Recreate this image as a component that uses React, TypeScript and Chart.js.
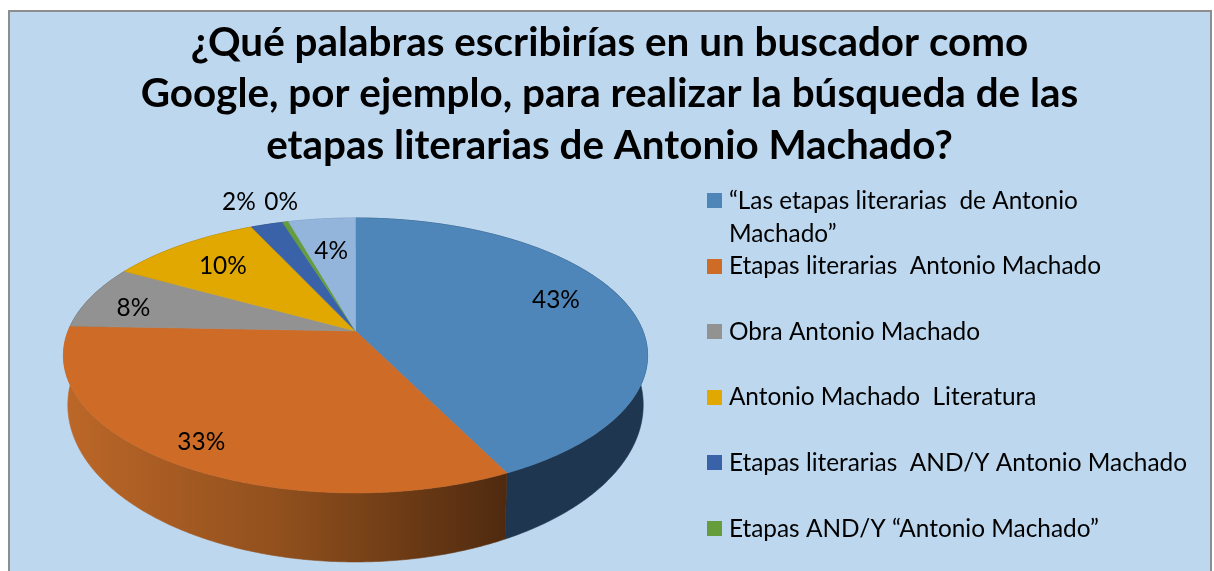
import React, { useEffect, useRef } from "react";
import { Chart, registerables } from "chart.js";

Chart.register(...registerables);

const titleLines = [
  "¿Qué palabras escribirías en un buscador como",
  "Google, por ejemplo, para realizar la búsqueda de las",
  "etapas literarias de Antonio Machado?",
];
const categories = [
  ["“Las etapas literarias  de Antonio", "Machado”"],
  ["Etapas literarias  Antonio Machado", ""],
  ["Obra Antonio Machado", ""],
  ["Antonio Machado  Literatura", ""],
  ["Etapas literarias  AND/Y Antonio Machado", ""],
  ["Etapas AND/Y “Antonio Machado”"],
  ["Otras"],
];
const legendCount = 6;
const shares = [42.7, 32.9, 7.5, 10.0, 2.1, 0.4, 4.4];
const colors = ["#4E86B9", "#CE6B27", "#929292", "#E0A800", "#3A62A9", "#659D3D", "#93B5DC"];
const wallColors = ["#1F3650", "#8A4C1D", "#555555", "#806000", "#203864", "#375623", "#5A7FAA"];
const wallGradient = ["#BC6728", "#8F4F1D", "#4F2A0F"];
const labelRadius = [0.77, 0.86, 0.82, 0.745, 1.28, 1.22, 0.69];
const labelShift = [-5.8, 0, -2.5, 0, -1.5, 1.7, 0];

const FONT = "Lato";
const LEGEND_FONT_SIZE = 24.4;
const SWATCH = 15;
const topPlane = { cx: 355.5, cy: 331, R: 287.4, S: 133.1, k: 0.178 };
const basePlane = { cx: 355.5, cy: 376.7, R: 283, S: 151.9, k: 0.18 };

type Plane = typeof topPlane;
const project = (p: Plane, angle: number, r = 1) => {
  const t = angle + Math.PI / 2;
  const u = r * Math.sin(t);
  const v = -r * Math.cos(t);
  const d = 1 - p.k * v;
  return [p.cx + (p.R * u) / d, p.cy + (p.S * v) / d];
};
const sample = (p: Plane, a: number, b: number) => {
  const n = Math.max(2, Math.ceil(Math.abs(b - a) / 0.01));
  const pts: number[][] = [];
  for (let i = 0; i <= n; i++) pts.push(project(p, a + ((b - a) * i) / n));
  return pts;
};
const fillPoly = (ctx: CanvasRenderingContext2D, pts: number[][], fill: any) => {
  ctx.beginPath();
  pts.forEach(([x, y], i) => (i ? ctx.lineTo(x, y) : ctx.moveTo(x, y)));
  ctx.closePath();
  ctx.fillStyle = fill;
  ctx.strokeStyle = fill;
  ctx.lineWidth = 0.6;
  ctx.fill();
  ctx.stroke();
};

const panelPlugin = {
  id: "panel",
  beforeDraw(chart: any) {
    const { ctx, width, height } = chart;
    ctx.save();
    ctx.fillStyle = "#BDD7EE";
    ctx.fillRect(9, 11, width - 12, height - 11);
    ctx.fillStyle = "#8E8E8E";
    ctx.fillRect(8, 10, width - 11, 2);
    ctx.fillRect(8, 10, 2, height - 10);
    ctx.fillRect(width - 4, 10, 2, height - 10);
    ctx.restore();
  },
  afterDraw(chart: any) {
    // Legend swatches sit closer to their text than the library's own spacing allows.
    const { ctx, legend } = chart;
    ctx.save();
    legend.legendHitBoxes.forEach((hit: any, i: number) => {
      ctx.fillStyle = colors[i];
      ctx.fillRect(
        Math.round(hit.left - 5),
        Math.floor(hit.top + (LEGEND_FONT_SIZE - SWATCH) / 2),
        SWATCH,
        SWATCH
      );
    });
    ctx.restore();
  },
};

const pie3dPlugin = {
  id: "pie3d",
  beforeDatasetsDraw(chart: any) {
    const { ctx } = chart;
    const arcs = chart.getDatasetMeta(0).data;
    ctx.save();
    const order = [2, 3, 4, 5, 6, 0, 1];
    order.forEach((i) => {
      const { startAngle, endAngle } = arcs[i];
      const top = sample(topPlane, startAngle, endAngle);
      const base = sample(basePlane, endAngle, startAngle);
      let fill: any = wallColors[i];
      if (i === 1) {
        const g = ctx.createLinearGradient(66, 0, 506, 0);
        wallGradient.forEach((c, s) => g.addColorStop(s / (wallGradient.length - 1), c));
        fill = g;
      }
      fillPoly(ctx, [...top, ...base], fill);
    });
    arcs.forEach((arc: any, i: number) => {
      const pts = sample(topPlane, arc.startAngle, arc.endAngle);
      fillPoly(ctx, [[topPlane.cx, topPlane.cy], ...pts], colors[i]);
    });
    ctx.fillStyle = "#000000";
    ctx.font = `24.4px ${FONT}`;
    ctx.textAlign = "center";
    ctx.textBaseline = "middle";
    arcs.forEach((arc: any, i: number) => {
      const mid = (arc.startAngle + arc.endAngle) / 2 + (labelShift[i] * Math.PI) / 180;
      const [x, y] = project(topPlane, mid, labelRadius[i]);
      ctx.fillText(`${Math.round(shares[i])}%`, x, y + 1);
    });
    ctx.restore();
    return false;
  },
};

export default function App() {
  const ref = useRef<HTMLCanvasElement>(null);
  useEffect(() => {
    const chart = new Chart(ref.current!, {
      type: "pie",
      data: {
        labels: categories as any,
        datasets: [{ data: shares, backgroundColor: colors, borderWidth: 0 }],
      },
      plugins: [panelPlugin, pie3dPlugin],
      options: {
        animation: false,
        responsive: false,
        layout: { padding: { left: 22, right: 17 } },
        plugins: {
          tooltip: { enabled: false },
          title: {
            display: true,
            text: titleLines,
            color: "#000000",
            font: { family: FONT, size: 40.4, weight: "bold", lineHeight: 1.277 },
            padding: { top: 17, bottom: 17 },
          },
          legend: {
            position: "right",
            align: "start",
            fullSize: false,
            labels: {
              color: "#000000",
              font: { family: FONT, size: LEGEND_FONT_SIZE, lineHeight: 1.343 },
              padding: 0,
              boxWidth: 5,
              boxHeight: 5,
              filter: (item: any) => item.index < legendCount,
              generateLabels: (c: any) =>
                c.data.labels.map((text: any, i: number) => ({
                  text,
                  index: i,
                  fillStyle: colors[i],
                  strokeStyle: colors[i],
                  lineWidth: 0,
                  hidden: false,
                })),
            },
          },
        },
      } as any,
    });
    return () => chart.destroy();
  }, []);
  return (
    <div style={{ position: "absolute", left: 0, top: 0, width: 1214, height: 571 }}>
      <canvas ref={ref} width={1214} height={571} style={{ display: "block" }} />
    </div>
  );
}
